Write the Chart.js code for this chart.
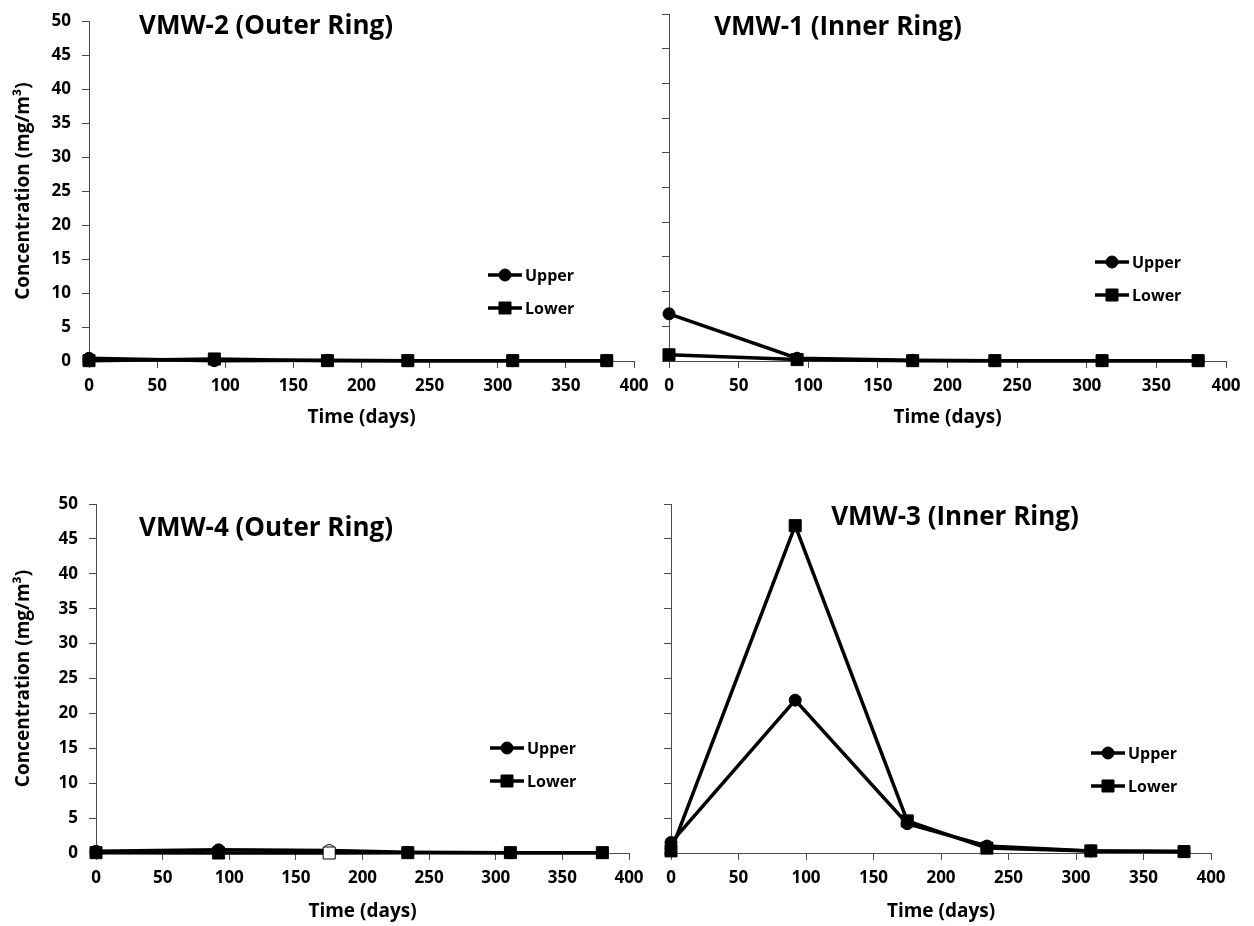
<!DOCTYPE html>
<html>
<head>
<meta charset="utf-8">
<script src="https://cdn.jsdelivr.net/npm/chart.js@4.4.1/dist/chart.umd.min.js"></script>
<style>
body { margin: 0; background: #fff; width: 1254px; height: 926px; position: relative; overflow: hidden; }
canvas { position: absolute; }
</style>
</head>
<body>
<canvas id="vmw2" width="660" height="440" style="left:0;top:0"></canvas>
<canvas id="vmw1" width="614" height="440" style="left:640px;top:0"></canvas>
<canvas id="vmw4" width="660" height="486" style="left:0;top:440px"></canvas>
<canvas id="vmw3" width="614" height="486" style="left:640px;top:440px"></canvas>
<script>
// sampling times (days)
const days = [0, 92, 175, 234, 311, 380];

// concentrations (mg/m3)
const vmw2Upper = [0.4, 0.05, 0.1, 0.05, 0.05, 0.05];
const vmw2Lower = [0.05, 0.3, 0.05, 0.05, 0.05, 0.05];
const vmw1Upper = [6.8, 0.4, 0.1, 0.05, 0.05, 0.05];
const vmw1Lower = [0.9, 0.2, 0.05, 0.05, 0.05, 0.05];
const vmw4Upper = [0.25, 0.45, 0.35, 0.1, 0.05, 0.05];
const vmw4Lower = [0.05, 0, 0, 0.05, 0.05, 0.05];
const vmw3Upper = [1.5, 21.9, 4.2, 1.0, 0.3, 0.2];
const vmw3Lower = [0.3, 46.9, 4.6, 0.7, 0.3, 0.2];

// open markers (non-detect) on VMW-4 at day 175
const vmw4Fill = ['#000', '#000', '#fff', '#000', '#000', '#000'];

const seriesNames = ['Upper', 'Lower'];
const xTicksMax = 400, xStep = 50;
const yTicksMax = 50, yStep = 5;

const FONT = '"Open Sans", "DejaVu Sans", sans-serif';
const axisColor = '#4a4a4a';

// panel title + in-plot legend
const panelDecor = {
    id: 'panelDecor',
    afterDraw(chart, args, opts) {
        const ctx = chart.ctx;
        ctx.save();
        ctx.fillStyle = '#000';
        ctx.font = 'bold 26px ' + FONT;
        ctx.textAlign = 'center';
        ctx.textBaseline = 'alphabetic';
        ctx.fillText(opts.title, opts.titleX, opts.titleY);

        chart.data.datasets.forEach((ds, i) => {
            const y = opts.legendY + i * 33;
            const x0 = opts.legendX;
            ctx.strokeStyle = '#000';
            ctx.lineWidth = 3.5;
            ctx.beginPath();
            ctx.moveTo(x0, y);
            ctx.lineTo(x0 + 34, y);
            ctx.stroke();
            ctx.fillStyle = '#000';
            ctx.lineWidth = 1;
            Chart.helpers.drawPoint(ctx, {
                pointStyle: ds.pointStyle,
                radius: ds.pointRadius,
                borderWidth: 1,
                rotation: 0
            }, x0 + 17, y);
            ctx.font = 'bold 16px ' + FONT;
            ctx.textAlign = 'left';
            ctx.textBaseline = 'middle';
            ctx.fillText(ds.label, x0 + 37, y + 1);
        });
        ctx.restore();
    }
};

function makeDataset(label, values, style, fill, order) {
    return {
        label: label,
        data: days.map((d, i) => ({ x: d, y: values[i] })),
        borderColor: '#000',
        borderWidth: 3.5,
        pointStyle: style,
        pointRadius: style === 'rect' ? 8.5 : 6,
        pointHoverRadius: style === 'rect' ? 8.5 : 6,
        pointBackgroundColor: fill || '#000',
        pointBorderColor: '#000',
        pointBorderWidth: 1,
        tension: 0,
        clip: false,
        order: order
    };
}

function makePanel(id, p) {
    return new Chart(document.getElementById(id), {
        type: 'line',
        data: {
            datasets: [
                makeDataset(seriesNames[0], p.upper, 'circle', p.fill, 2),
                makeDataset(seriesNames[1], p.lower, 'rect', p.fill, 1)
            ]
        },
        options: {
            responsive: false,
            devicePixelRatio: 1,
            animation: false,
            layout: { padding: { left: 0, top: p.top, right: p.right, bottom: 0 } },
            plugins: {
                legend: { display: false },
                tooltip: { enabled: false },
                panelDecor: {
                    title: p.title, titleX: p.titleX, titleY: p.titleY,
                    legendX: p.legendX, legendY: p.legendY
                }
            },
            scales: {
                x: {
                    type: 'linear',
                    min: 0, max: xTicksMax,
                    ticks: {
                        stepSize: xStep, maxRotation: 0, autoSkip: false,
                        color: '#000', padding: 8,
                        font: { family: FONT, size: 17, weight: 'bold' }
                    },
                    grid: { drawOnChartArea: false, tickLength: 7, color: axisColor, tickWidth: 1 },
                    border: { color: axisColor, width: 1 },
                    title: {
                        display: true, text: 'Time (days)', color: '#000',
                        font: { family: FONT, size: 19, weight: 'bold' },
                        padding: { top: 0, bottom: p.xTitlePad }
                    },
                    afterFit(s) { s.height = p.xH; }
                },
                y: {
                    min: 0, max: yTicksMax,
                    ticks: {
                        stepSize: yStep, display: p.showY,
                        color: '#000', padding: 11,
                        font: { family: FONT, size: 17, weight: 'bold' }
                    },
                    grid: { drawOnChartArea: false, tickLength: 7, color: axisColor, tickWidth: 1 },
                    border: { color: axisColor, width: 1 },
                    title: {
                        display: p.showY, text: 'Concentration (mg/m³)', color: '#000',
                        font: { family: FONT, size: 19, weight: 'bold' },
                        padding: { top: 12, bottom: 0 }
                    },
                    afterFit(s) { s.width = p.yW; }
                }
            }
        },
        plugins: [panelDecor]
    });
}

makePanel('vmw2', {
    upper: vmw2Upper, lower: vmw2Lower, showY: true,
    yW: 89, xH: 79, top: 14, right: 26, xTitlePad: 11,
    title: 'VMW-2 (Outer Ring)', titleX: 266, titleY: 34,
    legendX: 488, legendY: 275
});
makePanel('vmw1', {
    upper: vmw1Upper, lower: vmw1Lower, showY: false,
    yW: 29, xH: 79, top: 14, right: 28, xTitlePad: 11,
    title: 'VMW-1 (Inner Ring)', titleX: 198, titleY: 35,
    legendX: 455, legendY: 262
});
makePanel('vmw4', {
    upper: vmw4Upper, lower: vmw4Lower, fill: vmw4Fill, showY: true,
    yW: 96, xH: 73, top: 64, right: 31, xTitlePad: 3,
    title: 'VMW-4 (Outer Ring)', titleX: 266, titleY: 96,
    legendX: 490, legendY: 308
});
makePanel('vmw3', {
    upper: vmw3Upper, lower: vmw3Lower, showY: false,
    yW: 31, xH: 73, top: 64, right: 43, xTitlePad: 3,
    title: 'VMW-3 (Inner Ring)', titleX: 315, titleY: 85,
    legendX: 451, legendY: 313
});
</script>
</body>
</html>
